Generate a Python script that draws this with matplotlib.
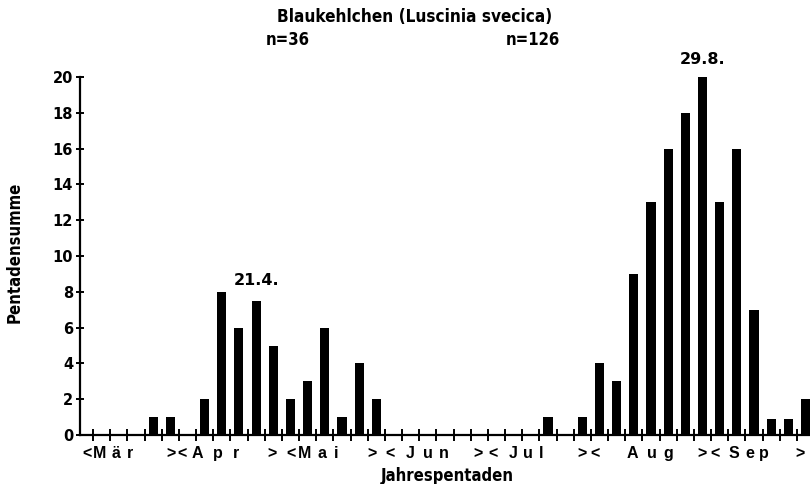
import matplotlib
matplotlib.use("Agg")
import matplotlib.pyplot as plt

# ---- data ----
slots = list(range(43))  # pentades from early March to early October
counts = [0, 0, 0, 0, 1, 1, 0, 2, 8, 6, 7.5, 5, 2, 3, 6, 1, 4, 2,
          0, 0, 0, 0, 0, 0, 0, 0, 0, 1, 0, 1, 4, 3, 9, 13, 16, 18, 20,
          13, 16, 7, 0.9, 0.9, 2]
months = ["Mär", "Apr", "Mai", "Jun", "Jul", "Aug", "Sep"]
yticks = list(range(0, 21, 2))
title = "Blaukehlchen (Luscinia svecica)"
n_labels = ["n=36", "n=126"]
peak_labels = ["21.4.", "29.8."]

plt.rcParams["font.family"] = ["DejaVu Sans"]
COND = dict(family="DejaVu Sans", stretch="condensed", fontweight="bold")
BOLD = dict(family="DejaVu Sans", fontweight="bold")
LIB = dict(family=["Liberation Sans", "DejaVu Sans"], fontweight="bold")

W, H = 810, 484
fig = plt.figure(figsize=(W / 100, H / 100), dpi=100)

# pixel <-> slot mapping (tick k at pixel x0 + dx*k)
x0, dx = 75.83, 17.17
def px2k(px):
    return (px - x0) / dx

ax_left, ax_right = 80, 810
ax_bottom, ax_top = 435, 77
ax = fig.add_axes([ax_left / W, 1 - ax_bottom / H,
                   (ax_right - ax_left) / W, (ax_bottom - ax_top) / H])
ax.set_xlim(px2k(ax_left), px2k(ax_right))
ax.set_ylim(0, 20)

ax.bar([s + 0.5 for s in slots], counts, width=0.53, color="black", zorder=3)

for sp in ["top", "right"]:
    ax.spines[sp].set_visible(False)
for sp in ["left", "bottom"]:
    ax.spines[sp].set_linewidth(1.6)

ax.set_xticks(range(1, 43))
ax.set_xticklabels([])
ax.tick_params(axis="x", direction="inout", length=8, width=1.4)
ax.set_yticks(yticks)
ax.set_yticklabels([str(v) for v in yticks])
for t in ax.get_yticklabels():
    t.set_fontsize(10.5)
    t.set_fontweight("bold")
ax.tick_params(axis="y", direction="inout", length=6, width=1.4, pad=2)

# month labels: "<" name ">"
lt_px = [87, 182, 291, 390, 493, 595, 715]
gt_px = [171, 272, 372, 478, 582, 702, 800]
name_px = [(93, 134), (190, 240), (298, 340), (403, 448), (507, 545), (625, 673), (728, 767)]
ylab = -1.05
fracs = [0.15, 0.56, 0.91]
for m, lt, gt, (a, b) in zip(months, lt_px, gt_px, name_px):
    ax.text(px2k(lt), ylab, "<", ha="center", va="center", fontsize=11.5,
            clip_on=False, **LIB)
    ax.text(px2k(gt), ylab, ">", ha="center", va="center", fontsize=11.5,
            clip_on=False, **LIB)
    w = b - a
    for f, ch in zip(fracs, m):
        cx = a + w * f
        ax.text(px2k(cx), ylab, ch, ha="center", va="center", fontsize=11.5,
                clip_on=False, **LIB)

# annotations
ax.text(px2k(257), 8.65, peak_labels[0], ha="center", va="center",
        fontsize=11.5, clip_on=False, **BOLD)
ax.text(px2k(703), 21.0, peak_labels[1], ha="center", va="center",
        fontsize=11.5, clip_on=False, **BOLD)
ax.text(px2k(288), 22.05, n_labels[0], ha="center", va="center",
        fontsize=12, clip_on=False, **COND)
ax.text(px2k(533), 22.05, n_labels[1], ha="center", va="center",
        fontsize=12, clip_on=False, **COND)

fig.text(415 / W, 1 - 17 / H, title, ha="center", va="center",
         fontsize=12.3, **COND)
fig.text(447 / W, 1 - 476 / H, "Jahrespentaden", ha="center", va="center",
         fontsize=12, **COND)
fig.text(15 / W, 1 - 252 / H, "Pentadensumme", ha="center", va="center",
         rotation=90, fontsize=12, **COND)

fig.savefig("out.png", dpi=100)
